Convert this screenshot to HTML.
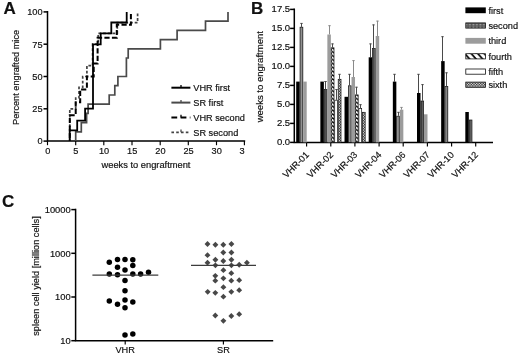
<!DOCTYPE html>
<html><head><meta charset="utf-8"><title>Figure</title>
<style>
html,body{margin:0;padding:0;background:#fff;}
svg{display:block;will-change:transform;font-family:"Liberation Sans",Arial,sans-serif;fill:#111;}
text{stroke:#111;stroke-width:0.18px;}
.ax{fill:none;stroke:#000;stroke-width:1.5;}
.tk{fill:none;stroke:#000;stroke-width:1.15;}
</style></head><body>
<svg width="520" height="356" viewBox="0 0 520 356">
<defs>
<pattern id="p2" width="1.17" height="4" patternUnits="userSpaceOnUse"><rect width="1.17" height="4" fill="#9a9a9a"/><rect width="0.5" height="4" fill="#3a3a3a"/></pattern>
<pattern id="p2h" width="1.4" height="1.6" patternUnits="userSpaceOnUse"><rect width="1.4" height="1.6" fill="#555"/><rect width="0.7" height="0.8" fill="#aaa"/></pattern>
<pattern id="p4" width="4" height="3.9" patternUnits="userSpaceOnUse"><rect width="4" height="3.9" fill="#fff"/><path d="M-1,0.4 L5,3.5 M-1,-3.5 L5,-0.4 M-1,4.3 L5,7.4" stroke="#000" stroke-width="1.5"/></pattern>
<pattern id="p4h" width="6.5" height="6" patternUnits="userSpaceOnUse" patternTransform="translate(465.8,0)"><rect width="6.5" height="6" fill="#fff"/><path d="M-2,-1.5 L6,7.5 M4.5,-1.5 L12.5,7.5 M-8.5,-1.5 L-0.5,7.5" stroke="#000" stroke-width="1.7"/></pattern>
<pattern id="p6" width="1.6" height="1.6" patternUnits="userSpaceOnUse"><rect width="1.6" height="1.6" fill="#fff"/><path d="M-0.4,-0.4 L2,2 M1.2,-0.4 L3.6,2 M-2,-0.4 L0.4,2" stroke="#000" stroke-width="0.75"/></pattern>
</defs>
<rect width="520" height="356" fill="#fff"/>
<text x="3.6" y="14.0" font-size="17" text-anchor="start" font-weight="bold">A</text>
<path d="M47.5,11.1 V141.1 H245.2" class="ax"/>
<path d="M43.5,141.1 H47.5" class="ax"/>
<text x="42.5" y="144.4" font-size="9.2" text-anchor="end">0</text>
<path d="M43.5,108.8 H47.5" class="ax"/>
<text x="42.5" y="112.1" font-size="9.2" text-anchor="end">25</text>
<path d="M43.5,76.5 H47.5" class="ax"/>
<text x="42.5" y="79.8" font-size="9.2" text-anchor="end">50</text>
<path d="M43.5,44.2 H47.5" class="ax"/>
<text x="42.5" y="47.5" font-size="9.2" text-anchor="end">75</text>
<path d="M43.5,11.9 H47.5" class="ax"/>
<text x="42.5" y="15.2" font-size="9.2" text-anchor="end">100</text>
<path d="M47.5,141.1 v4.1" class="tk"/>
<text x="47.7" y="153.9" font-size="9.2" text-anchor="middle">0</text>
<path d="M75.7,141.1 v4.1" class="tk"/>
<text x="75.9" y="153.9" font-size="9.2" text-anchor="middle">5</text>
<path d="M103.8,141.1 v4.1" class="tk"/>
<text x="104.0" y="153.9" font-size="9.2" text-anchor="middle">10</text>
<path d="M132.0,141.1 v4.1" class="tk"/>
<text x="132.2" y="153.9" font-size="9.2" text-anchor="middle">15</text>
<path d="M160.2,141.1 v4.1" class="tk"/>
<text x="160.4" y="153.9" font-size="9.2" text-anchor="middle">20</text>
<path d="M188.3,141.1 v4.1" class="tk"/>
<text x="188.5" y="153.9" font-size="9.2" text-anchor="middle">25</text>
<path d="M216.5,141.1 v4.1" class="tk"/>
<text x="216.7" y="153.9" font-size="9.2" text-anchor="middle">30</text>
<path d="M244.4,141.1 v4.1" class="tk"/>
<text x="239.4" y="153.9" font-size="9.2" text-anchor="start">3</text>
<text x="146.0" y="167.6" font-size="9.3" text-anchor="middle">weeks to engraftment</text>
<text transform="translate(18.7,77.4) rotate(-90)" font-size="9.2" text-anchor="middle">Percent engrafted mice</text>
<path d="M75.7,141.1 H75.7 V131.9 H81.3 V122.6 H86.6 V113.4 H88.1 V104.2 H109.2 V95.0 H114.8 V85.7 H117.9 V76.5 H126.4 V58.0 H128.2 V48.8 H160.4 V39.6 H177.1 V30.4 H205.5 V21.1 H228.0 V11.9" fill="none" stroke="#4a4a4a" stroke-width="1.7"/>
<path d="M69.8,141.1 H69.8 V108.8 H75.7 V98.0 H79.0 V87.3 H82.7 V76.5 H86.9 V65.7 H92.6 V44.2 H98.2 V33.4 H117.3 V22.7 H137.6 V11.9" fill="none" stroke="#444" stroke-width="1.7" stroke-dasharray="2.8,1.9"/>
<path d="M69.8,141.1 H69.8 V115.3 H75.7 V102.3 H80.2 V89.4 H86.9 V76.5 H93.7 V63.6 H97.6 V37.7 H116.8 V24.8 H130.9 V11.9" fill="none" stroke="#000" stroke-width="2" stroke-dasharray="5.2,2.3" stroke-dashoffset="4.5"/>
<path d="M69.7,141.1 V130.3 H77.2 V120.6 H85.1 V108.7 H93 V44.3 H100.7 V33.4 H111.3 V22.5 H126.7 V11.9" fill="none" stroke="#000" stroke-width="1.8"/>
<path d="M171.4,87.7 H190.4" fill="none" stroke="#000" stroke-width="2"/>
<path d="M181,87.7 v-2.7" fill="none" stroke="#000" stroke-width="1.3"/>
<text x="193.3" y="91.0" font-size="9.2" text-anchor="start">VHR first</text>
<path d="M171.4,102.6 H190.4" fill="none" stroke="#4a4a4a" stroke-width="2"/>
<path d="M181,102.6 v-2.7" fill="none" stroke="#4a4a4a" stroke-width="1.3"/>
<text x="193.3" y="105.9" font-size="9.2" text-anchor="start">SR first</text>
<path d="M171.4,117.4 H190.4" fill="none" stroke="#000" stroke-width="2" stroke-dasharray="5.8,3.4"/>
<path d="M181,117.4 v-2.7" fill="none" stroke="#000" stroke-width="1.3"/>
<text x="193.3" y="120.7" font-size="9.2" text-anchor="start">VHR second</text>
<path d="M171.4,132.3 H190.4" fill="none" stroke="#444" stroke-width="1.7" stroke-dasharray="2.6,2.2"/>
<path d="M181,132.3 v-2.7" fill="none" stroke="#4a4a4a" stroke-width="1.3"/>
<text x="193.3" y="135.6" font-size="9.2" text-anchor="start">SR second</text>
<text x="251.0" y="13.8" font-size="17" text-anchor="start" font-weight="bold">B</text>
<path d="M294.3,8.6 V142.4 H493" class="ax"/>
<path d="M290.1,142.4 H294.3" class="ax"/>
<text x="290.1" y="145.4" font-size="9.5" text-anchor="end">0.0</text>
<path d="M290.1,123.4 H294.3" class="ax"/>
<text x="290.1" y="126.4" font-size="9.5" text-anchor="end">2.5</text>
<path d="M290.1,104.4 H294.3" class="ax"/>
<text x="290.1" y="107.4" font-size="9.5" text-anchor="end">5.0</text>
<path d="M290.1,85.4 H294.3" class="ax"/>
<text x="290.1" y="88.4" font-size="9.5" text-anchor="end">7.5</text>
<path d="M290.1,66.4 H294.3" class="ax"/>
<text x="290.1" y="69.4" font-size="9.5" text-anchor="end">10.0</text>
<path d="M290.1,47.4 H294.3" class="ax"/>
<text x="290.1" y="50.4" font-size="9.5" text-anchor="end">12.5</text>
<path d="M290.1,28.4 H294.3" class="ax"/>
<text x="290.1" y="31.4" font-size="9.5" text-anchor="end">15.0</text>
<path d="M290.1,9.4 H294.3" class="ax"/>
<text x="290.1" y="12.4" font-size="9.5" text-anchor="end">17.5</text>
<text transform="translate(263.3,76.7) rotate(-90)" font-size="9.55" text-anchor="middle">weeks to engraftment</text>
<path d="M306.6,142.4 v4" class="tk"/>
<text transform="translate(309.6,155.4) rotate(-45)" font-size="9.2" text-anchor="end">VHR-01</text>
<rect x="296.20" y="81.6" width="3.50" height="60.8" fill="#000"/>
<path d="M301.5,26.9 V23.1 M300.3,23.4 h2.4" fill="none" stroke="#4a4a4a" stroke-width="1"/>
<rect x="300.05" y="27.2" width="2.80" height="115.2" fill="url(#p2)" stroke="#111" stroke-width="0.7"/>
<rect x="303.20" y="81.6" width="3.50" height="60.8" fill="#9c9c9c"/>
<path d="M330.8,142.4 v4" class="tk"/>
<text transform="translate(333.8,155.4) rotate(-45)" font-size="9.2" text-anchor="end">VHR-02</text>
<rect x="320.36" y="81.6" width="3.50" height="60.8" fill="#000"/>
<path d="M325.5,89.2 V81.2 M324.3,81.5 h2.4" fill="none" stroke="#4a4a4a" stroke-width="1"/>
<rect x="324.21" y="89.6" width="2.80" height="52.8" fill="url(#p2)" stroke="#111" stroke-width="0.7"/>
<path d="M329.5,34.5 V25.4 M328.3,25.7 h2.4" fill="none" stroke="#8a8a8a" stroke-width="1"/>
<rect x="327.36" y="34.5" width="3.50" height="107.9" fill="#9c9c9c"/>
<path d="M332.5,47.4 V43.6 M331.3,43.9 h2.4" fill="none" stroke="#4a4a4a" stroke-width="1"/>
<rect x="331.21" y="47.8" width="2.80" height="94.7" fill="url(#p4)" stroke="#111" stroke-width="0.7"/>
<path d="M336.5,99.8 V89.2 M335.3,89.5 h2.4" fill="none" stroke="#4a4a4a" stroke-width="1"/>
<rect x="334.71" y="100.2" width="2.80" height="42.2" fill="#fff" stroke="#111" stroke-width="0.7"/>
<path d="M339.5,78.9 V74.0 M338.3,74.3 h2.4" fill="none" stroke="#4a4a4a" stroke-width="1"/>
<rect x="338.21" y="79.3" width="2.80" height="63.1" fill="url(#p6)" stroke="#111" stroke-width="0.7"/>
<path d="M354.9,142.4 v4" class="tk"/>
<text transform="translate(357.9,155.4) rotate(-45)" font-size="9.2" text-anchor="end">VHR-03</text>
<rect x="344.52" y="96.8" width="3.50" height="45.6" fill="#000"/>
<path d="M349.5,85.4 V74.0 M348.3,74.3 h2.4" fill="none" stroke="#4a4a4a" stroke-width="1"/>
<rect x="348.37" y="85.8" width="2.80" height="56.6" fill="url(#p2)" stroke="#111" stroke-width="0.7"/>
<path d="M353.5,77.0 V60.3 M352.3,60.6 h2.4" fill="none" stroke="#8a8a8a" stroke-width="1"/>
<rect x="351.52" y="77.0" width="3.50" height="65.4" fill="#9c9c9c"/>
<path d="M356.5,94.5 V86.9 M355.3,87.2 h2.4" fill="none" stroke="#4a4a4a" stroke-width="1"/>
<rect x="355.37" y="94.9" width="2.80" height="47.5" fill="url(#p4)" stroke="#111" stroke-width="0.7"/>
<path d="M360.5,108.2 V104.4 M359.3,104.7 h2.4" fill="none" stroke="#4a4a4a" stroke-width="1"/>
<rect x="358.87" y="108.6" width="2.80" height="33.8" fill="#fff" stroke="#111" stroke-width="0.7"/>
<rect x="362.37" y="112.3" width="2.80" height="30.1" fill="url(#p6)" stroke="#111" stroke-width="0.7"/>
<path d="M379.1,142.4 v4" class="tk"/>
<text transform="translate(382.1,155.4) rotate(-45)" font-size="9.2" text-anchor="end">VHR-04</text>
<path d="M370.5,57.3 V43.6 M369.3,43.9 h2.4" fill="none" stroke="#4a4a4a" stroke-width="1"/>
<rect x="368.68" y="57.3" width="3.50" height="85.1" fill="#000"/>
<path d="M373.5,48.2 V24.6 M372.3,24.9 h2.4" fill="none" stroke="#4a4a4a" stroke-width="1"/>
<rect x="372.53" y="48.5" width="2.80" height="93.9" fill="url(#p2)" stroke="#111" stroke-width="0.7"/>
<path d="M377.5,36.0 V20.8 M376.3,21.1 h2.4" fill="none" stroke="#8a8a8a" stroke-width="1"/>
<rect x="375.68" y="36.0" width="3.50" height="106.4" fill="#9c9c9c"/>
<path d="M403.2,142.4 v4" class="tk"/>
<text transform="translate(406.2,155.4) rotate(-45)" font-size="9.2" text-anchor="end">VHR-06</text>
<path d="M394.5,81.6 V74.0 M393.3,74.3 h2.4" fill="none" stroke="#4a4a4a" stroke-width="1"/>
<rect x="392.84" y="81.6" width="3.50" height="60.8" fill="#000"/>
<path d="M398.5,115.8 V112.0 M397.3,112.3 h2.4" fill="none" stroke="#4a4a4a" stroke-width="1"/>
<rect x="396.69" y="116.2" width="2.80" height="26.2" fill="url(#p2)" stroke="#111" stroke-width="0.7"/>
<path d="M401.5,109.7 V107.1 M400.3,107.4 h2.4" fill="none" stroke="#8a8a8a" stroke-width="1"/>
<rect x="399.84" y="109.7" width="3.50" height="32.7" fill="#9c9c9c"/>
<path d="M427.4,142.4 v4" class="tk"/>
<text transform="translate(430.4,155.4) rotate(-45)" font-size="9.2" text-anchor="end">VHR-07</text>
<path d="M418.5,93.0 V74.0 M417.3,74.3 h2.4" fill="none" stroke="#4a4a4a" stroke-width="1"/>
<rect x="417.00" y="93.0" width="3.50" height="49.4" fill="#000"/>
<path d="M422.5,100.6 V84.3 M421.3,84.6 h2.4" fill="none" stroke="#4a4a4a" stroke-width="1"/>
<rect x="420.85" y="101.0" width="2.80" height="41.4" fill="url(#p2)" stroke="#111" stroke-width="0.7"/>
<rect x="424.00" y="114.3" width="3.50" height="28.1" fill="#9c9c9c"/>
<path d="M451.6,142.4 v4" class="tk"/>
<text transform="translate(454.6,155.4) rotate(-45)" font-size="9.2" text-anchor="end">VHR-10</text>
<path d="M442.5,61.1 V36.4 M441.3,36.7 h2.4" fill="none" stroke="#4a4a4a" stroke-width="1"/>
<rect x="441.16" y="61.1" width="3.50" height="81.3" fill="#000"/>
<path d="M446.5,86.2 V72.5 M445.3,72.8 h2.4" fill="none" stroke="#4a4a4a" stroke-width="1"/>
<rect x="445.01" y="86.5" width="2.80" height="55.9" fill="url(#p2)" stroke="#111" stroke-width="0.7"/>
<path d="M475.7,142.4 v4" class="tk"/>
<text transform="translate(478.7,155.4) rotate(-45)" font-size="9.2" text-anchor="end">VHR-12</text>
<rect x="465.32" y="112.0" width="3.50" height="30.4" fill="#000"/>
<rect x="469.17" y="120.0" width="2.80" height="22.4" fill="url(#p2)" stroke="#111" stroke-width="0.7"/>
<rect x="465.4" y="7.4" width="20.4" height="5.8" fill="#000"/>
<text x="488.4" y="13.6" font-size="9.2" text-anchor="start">first</text>
<rect x="465.8" y="22.9" width="19.6" height="5.2" fill="url(#p2h)" stroke="#111" stroke-width="0.8"/>
<text x="488.4" y="28.8" font-size="9.2" text-anchor="start">second</text>
<rect x="465.4" y="37.9" width="20.4" height="5.8" fill="#9c9c9c"/>
<text x="488.4" y="44.1" font-size="9.2" text-anchor="start">third</text>
<rect x="465.8" y="53.7" width="19.6" height="5.2" fill="url(#p4h)" stroke="#111" stroke-width="0.8"/>
<text x="488.4" y="59.6" font-size="9.2" text-anchor="start">fourth</text>
<rect x="465.8" y="69.0" width="19.6" height="5.2" fill="#fff" stroke="#111" stroke-width="0.8"/>
<text x="488.4" y="74.9" font-size="9.2" text-anchor="start">fifth</text>
<rect x="465.8" y="82.1" width="19.6" height="5.2" fill="url(#p6)" stroke="#111" stroke-width="0.8"/>
<text x="488.4" y="88.0" font-size="9.2" text-anchor="start">sixth</text>
<text x="1.9" y="207.2" font-size="17" text-anchor="start" font-weight="bold">C</text>
<path d="M75.6,208.8 V340.7 H273.2" class="ax"/>
<path d="M71.3,340.7 H75.6" class="ax"/>
<text x="70.7" y="344.0" font-size="9.35" text-anchor="end">10</text>
<path d="M71.3,297.0 H75.6" class="ax"/>
<text x="70.7" y="300.3" font-size="9.35" text-anchor="end">100</text>
<path d="M71.3,253.3 H75.6" class="ax"/>
<text x="70.7" y="256.6" font-size="9.35" text-anchor="end">1000</text>
<path d="M71.3,209.6 H75.6" class="ax"/>
<text x="70.7" y="212.9" font-size="9.35" text-anchor="end">10000</text>
<text transform="translate(39.2,276) rotate(-90)" font-size="9.2" text-anchor="middle">spleen cell yield [million cells]</text>
<path d="M125.2,340.7 v3.8" class="tk"/>
<text x="125.2" y="352.6" font-size="9.2" text-anchor="middle">VHR</text>
<path d="M223.4,340.7 v3.8" class="tk"/>
<text x="223.4" y="352.6" font-size="9.2" text-anchor="middle">SR</text>
<circle cx="117.5" cy="259.6" r="2.75" fill="#000"/>
<circle cx="125.0" cy="259.6" r="2.75" fill="#000"/>
<circle cx="132.8" cy="259.8" r="2.75" fill="#000"/>
<circle cx="109.3" cy="262.2" r="2.75" fill="#000"/>
<circle cx="117.5" cy="267.3" r="2.75" fill="#000"/>
<circle cx="132.8" cy="265.4" r="2.75" fill="#000"/>
<circle cx="125.0" cy="270.0" r="2.75" fill="#000"/>
<circle cx="109.3" cy="274.1" r="2.75" fill="#000"/>
<circle cx="117.5" cy="274.7" r="2.75" fill="#000"/>
<circle cx="132.8" cy="274.1" r="2.75" fill="#000"/>
<circle cx="140.6" cy="274.1" r="2.75" fill="#000"/>
<circle cx="148.5" cy="272.3" r="2.75" fill="#000"/>
<circle cx="125.0" cy="280.4" r="2.75" fill="#000"/>
<circle cx="125.0" cy="290.7" r="2.75" fill="#000"/>
<circle cx="109.3" cy="301.0" r="2.75" fill="#000"/>
<circle cx="117.5" cy="304.2" r="2.75" fill="#000"/>
<circle cx="125.0" cy="299.9" r="2.75" fill="#000"/>
<circle cx="132.8" cy="302.0" r="2.75" fill="#000"/>
<circle cx="125.0" cy="307.8" r="2.75" fill="#000"/>
<circle cx="125.0" cy="335.1" r="2.75" fill="#000"/>
<circle cx="132.8" cy="334.1" r="2.75" fill="#000"/>
<path d="M92.4,275.1 H158.3" stroke="#3c3c3c" stroke-width="1.1" fill="none"/>
<path d="M207.5,241.1 l2.95,2.95 l-2.95,2.95 l-2.95,-2.95 z" fill="#484848"/>
<path d="M215.4,241.8 l2.95,2.95 l-2.95,2.95 l-2.95,-2.95 z" fill="#484848"/>
<path d="M223.3,241.8 l2.95,2.95 l-2.95,2.95 l-2.95,-2.95 z" fill="#484848"/>
<path d="M231.4,241.1 l2.95,2.95 l-2.95,2.95 l-2.95,-2.95 z" fill="#484848"/>
<path d="M223.3,249.6 l2.95,2.95 l-2.95,2.95 l-2.95,-2.95 z" fill="#484848"/>
<path d="M231.4,249.6 l2.95,2.95 l-2.95,2.95 l-2.95,-2.95 z" fill="#484848"/>
<path d="M207.5,252.2 l2.95,2.95 l-2.95,2.95 l-2.95,-2.95 z" fill="#484848"/>
<path d="M215.4,256.8 l2.95,2.95 l-2.95,2.95 l-2.95,-2.95 z" fill="#484848"/>
<path d="M231.4,256.8 l2.95,2.95 l-2.95,2.95 l-2.95,-2.95 z" fill="#484848"/>
<path d="M223.3,258.1 l2.95,2.95 l-2.95,2.95 l-2.95,-2.95 z" fill="#484848"/>
<path d="M207.5,259.7 l2.95,2.95 l-2.95,2.95 l-2.95,-2.95 z" fill="#484848"/>
<path d="M246.9,259.7 l2.95,2.95 l-2.95,2.95 l-2.95,-2.95 z" fill="#484848"/>
<path d="M215.4,262.4 l2.95,2.95 l-2.95,2.95 l-2.95,-2.95 z" fill="#484848"/>
<path d="M231.4,262.4 l2.95,2.95 l-2.95,2.95 l-2.95,-2.95 z" fill="#484848"/>
<path d="M239.2,261.8 l2.95,2.95 l-2.95,2.95 l-2.95,-2.95 z" fill="#484848"/>
<path d="M223.4,267.2 l2.95,2.95 l-2.95,2.95 l-2.95,-2.95 z" fill="#484848"/>
<path d="M231.3,270.2 l2.95,2.95 l-2.95,2.95 l-2.95,-2.95 z" fill="#484848"/>
<path d="M215.3,272.9 l2.95,2.95 l-2.95,2.95 l-2.95,-2.95 z" fill="#484848"/>
<path d="M223.4,275.4 l2.95,2.95 l-2.95,2.95 l-2.95,-2.95 z" fill="#484848"/>
<path d="M215.3,277.7 l2.95,2.95 l-2.95,2.95 l-2.95,-2.95 z" fill="#484848"/>
<path d="M231.3,277.7 l2.95,2.95 l-2.95,2.95 l-2.95,-2.95 z" fill="#484848"/>
<path d="M239.2,277.2 l2.95,2.95 l-2.95,2.95 l-2.95,-2.95 z" fill="#484848"/>
<path d="M223.4,284.2 l2.95,2.95 l-2.95,2.95 l-2.95,-2.95 z" fill="#484848"/>
<path d="M207.7,288.9 l2.95,2.95 l-2.95,2.95 l-2.95,-2.95 z" fill="#484848"/>
<path d="M215.3,289.9 l2.95,2.95 l-2.95,2.95 l-2.95,-2.95 z" fill="#484848"/>
<path d="M231.3,288.9 l2.95,2.95 l-2.95,2.95 l-2.95,-2.95 z" fill="#484848"/>
<path d="M239.2,287.2 l2.95,2.95 l-2.95,2.95 l-2.95,-2.95 z" fill="#484848"/>
<path d="M223.4,293.7 l2.95,2.95 l-2.95,2.95 l-2.95,-2.95 z" fill="#484848"/>
<path d="M215.3,312.6 l2.95,2.95 l-2.95,2.95 l-2.95,-2.95 z" fill="#484848"/>
<path d="M223.4,317.9 l2.95,2.95 l-2.95,2.95 l-2.95,-2.95 z" fill="#484848"/>
<path d="M231.3,313.1 l2.95,2.95 l-2.95,2.95 l-2.95,-2.95 z" fill="#484848"/>
<path d="M239.2,311.2 l2.95,2.95 l-2.95,2.95 l-2.95,-2.95 z" fill="#484848"/>
<path d="M191,265.4 H256" stroke="#3c3c3c" stroke-width="1.1" fill="none"/>
</svg>
</body></html>
